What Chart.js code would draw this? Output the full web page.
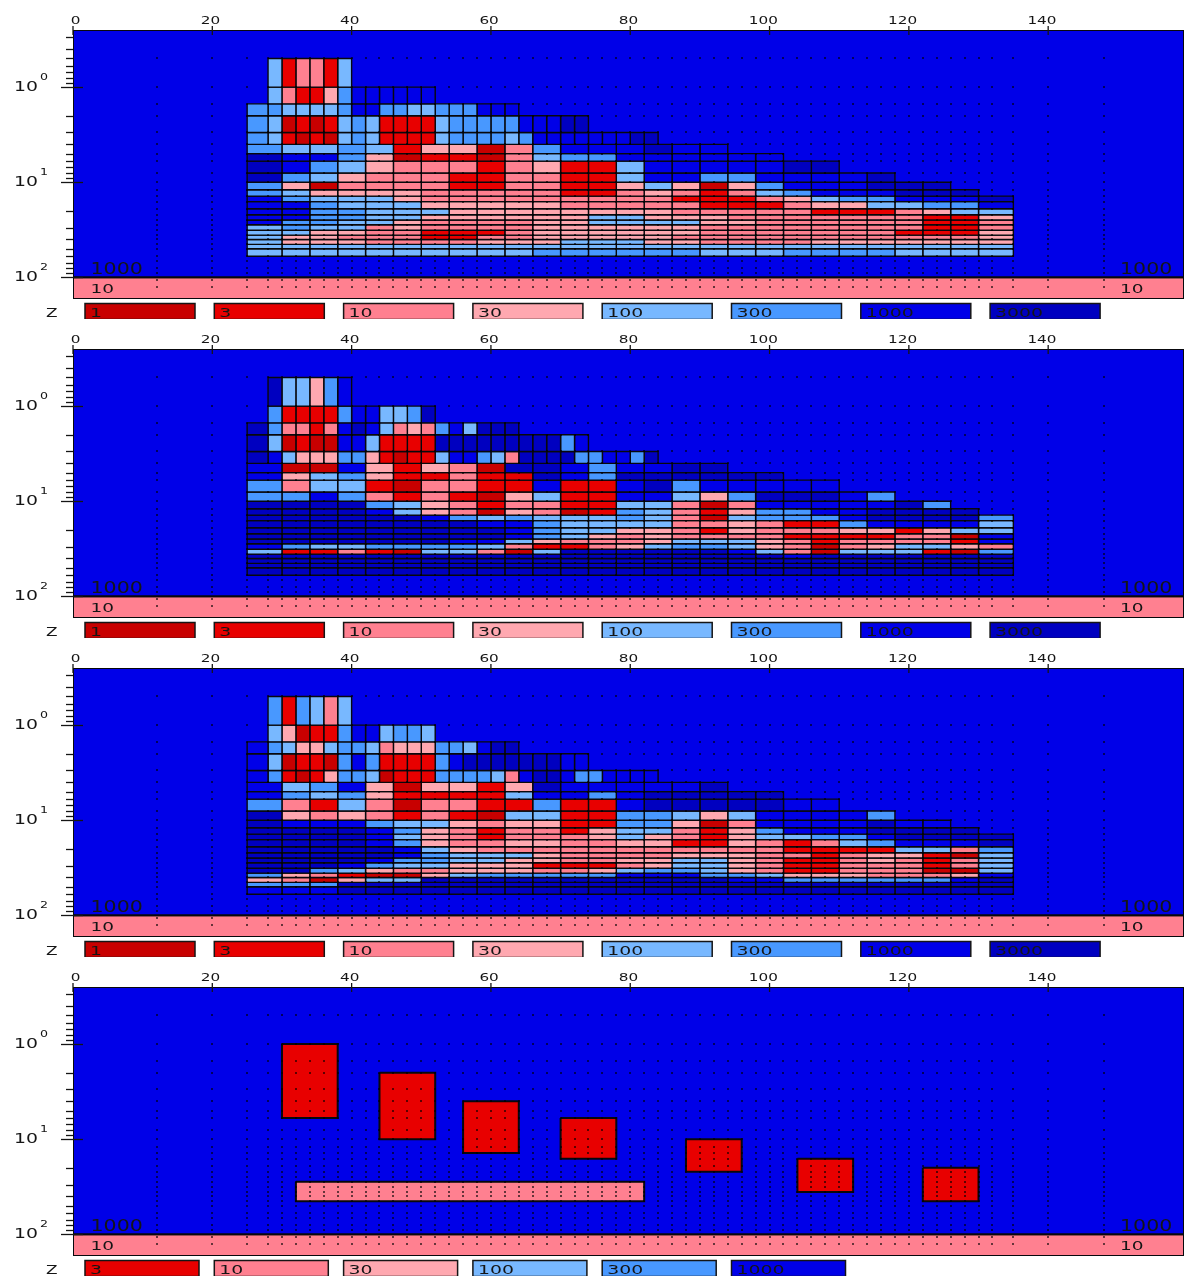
<!DOCTYPE html>
<html>
<head>
<meta charset="utf-8">
<title>Resistivity sections</title>
<script src="https://cdn.jsdelivr.net/npm/chart.js@4/dist/chart.umd.min.js"></script>
<style>
  html, body { margin: 0; padding: 0; background: #fff; overflow: hidden; }
  #wrap { position: relative; width: 1184px; height: 1276px; }
  canvas { position: absolute; left: 0; display: block; }
</style>
</head>
<body>
<div id="wrap">
  <canvas id="panel1" width="1184" height="319" style="top:0"></canvas>
  <canvas id="panel2" width="1184" height="319" style="top:319px"></canvas>
  <canvas id="panel3" width="1184" height="319" style="top:638px"></canvas>
  <canvas id="panel4" width="1184" height="319" style="top:957px"></canvas>
</div>
<script>
// axis values
const xTicks = [0, 20, 40, 60, 80, 100, 120, 140];
const yMajorTicks = [1, 10, 100];
const yMinorTicks = [0.3, 0.4, 0.5, 0.6, 0.7, 0.8, 0.9, 2, 3, 4, 5, 6, 7, 8, 9, 20, 30, 40, 50, 60, 70, 80, 90];

// cell edges, rows 0-1 start at 28, rows 2-4 use narrowX, the others wideX
const rowEdges = [0.5, 1, 1.5, 2, 3, 4, 5, 6, 8, 10, 12, 14, 16, 19, 22, 25, 28, 32, 36, 40, 45, 50, 60];
const narrowX = [25, 28, 30, 32, 34, 36, 38, 40, 42, 44, 46, 48, 50, 52, 54, 56, 58, 60, 62, 64, 66, 68, 70, 72, 74, 76, 78, 80, 82, 84];
const wideX = [25, 30, 34, 38, 42, 46, 50, 54, 58, 62, 66, 70, 74, 78, 82, 86, 90, 94, 98, 102, 106, 110, 114, 118, 122, 126, 130, 135];

// measurement grid, the small dots
const dotX = [12, 20, 25, 28, 30, 32, 34, 36, 38, 40, 42, 44, 46, 48, 50, 52, 54, 56, 58, 60, 62, 64, 66, 68, 70, 72, 74, 76, 78, 80, 82, 84, 86, 88, 90, 92, 94, 96, 98, 100, 102, 104, 106, 108, 110, 112, 114, 116, 118, 120, 122, 124, 126, 128, 130, 132, 135, 140, 148];
const dotY = [0.5, 1, 1.5, 2, 3, 4, 5, 6, 8, 10, 12, 14, 16, 19, 22, 25, 28, 32, 36, 40, 45, 50, 60, 67, 80, 90, 107, 126];

// cell values per row
const panel1 = [
  [100, 3, 10, 10, 3, 100],
  [100, 10, 3, 3, 30, 300, 1000, 1000, 1000, 1000, 1000, 1000],
  [300, 300, 100, 100, 100, 100, 300, 1000, 1000, 300, 300, 100, 100, 300, 300, 300, 1000, 1000, 1000],
  [300, 100, 1, 3, 1, 3, 100, 300, 100, 3, 3, 3, 3, 100, 300, 300, 300, 300, 300, 1000, 1000, 1000, 3000, 3000],
  [300, 100, 3, 1, 3, 1, 100, 300, 100, 3, 3, 3, 3, 100, 300, 300, 300, 300, 100, 300, 1000, 1000, 1000, 1000, 1000, 1000, 1000, 3000, 3000],
  [300, 100, 100, 300, 100, 3, 30, 30, 1, 10, 300, 1000, 1000, 1000, 3000, 1000, 1000],
  [3000, 1000, 1000, 300, 30, 1, 3, 3, 1, 10, 100, 300, 300, 1000, 1000, 1000, 1000, 1000, 1000],
  [3000, 1000, 300, 100, 30, 10, 10, 10, 3, 10, 30, 3, 3, 100, 1000, 1000, 1000, 1000, 1000, 3000, 3000],
  [3000, 300, 100, 30, 10, 10, 10, 3, 3, 10, 10, 3, 3, 100, 1000, 1000, 300, 300, 1000, 1000, 1000, 1000, 3000],
  [300, 30, 1, 10, 10, 10, 10, 3, 3, 10, 10, 3, 3, 30, 100, 30, 1, 30, 300, 1000, 1000, 1000, 3000, 3000, 3000],
  [300, 100, 30, 30, 30, 30, 10, 10, 10, 10, 10, 3, 3, 10, 30, 10, 3, 10, 100, 300, 1000, 1000, 1000, 3000, 3000, 3000],
  [1000, 300, 100, 100, 100, 30, 10, 10, 10, 10, 10, 10, 10, 10, 10, 3, 3, 3, 10, 30, 100, 300, 300, 1000, 1000, 1000, 3000],
  [1000, 1000, 300, 100, 100, 100, 30, 30, 30, 30, 30, 10, 10, 10, 10, 10, 3, 3, 3, 10, 30, 30, 100, 100, 300, 300, 1000],
  [1000, 1000, 300, 300, 100, 100, 100, 30, 30, 30, 30, 30, 30, 30, 30, 10, 10, 10, 10, 10, 3, 3, 3, 10, 30, 100, 100],
  [1000, 1000, 300, 300, 100, 100, 30, 30, 30, 30, 30, 30, 100, 100, 30, 30, 30, 10, 10, 10, 10, 10, 10, 10, 3, 3, 30],
  [1000, 300, 300, 100, 100, 30, 10, 10, 10, 10, 30, 30, 100, 100, 100, 100, 30, 30, 10, 10, 10, 10, 10, 10, 3, 3, 10],
  [100, 300, 100, 100, 10, 30, 10, 10, 10, 10, 30, 30, 30, 30, 30, 30, 10, 10, 10, 10, 10, 10, 10, 10, 3, 3, 10],
  [100, 100, 30, 30, 10, 10, 3, 3, 3, 10, 30, 30, 30, 30, 30, 30, 10, 10, 10, 10, 10, 10, 10, 3, 3, 3, 30],
  [100, 30, 30, 10, 10, 10, 3, 3, 10, 10, 30, 30, 30, 30, 30, 10, 10, 10, 10, 10, 10, 10, 10, 10, 10, 10, 30],
  [100, 30, 30, 30, 10, 10, 10, 10, 30, 30, 30, 100, 100, 100, 30, 30, 10, 10, 10, 10, 30, 30, 30, 30, 30, 30, 30],
  [100, 100, 100, 100, 100, 100, 100, 100, 100, 100, 100, 100, 100, 100, 100, 100, 100, 100, 100, 100, 100, 100, 100, 100, 100, 100, 100],
  [100, 100, 100, 100, 100, 100, 100, 100, 100, 100, 300, 300, 300, 300, 300, 300, 100, 100, 100, 300, 300, 300, 300, 100, 100, 100, 100]
];

const panel2 = [
  [3000, 100, 100, 30, 300, 1000],
  [300, 3, 3, 3, 3, 300, 1000, 1000, 100, 100, 300, 3000],
  [3000, 300, 10, 10, 3, 10, 1000, 3000, 1000, 100, 10, 30, 10, 300, 1000, 100, 3000, 3000, 3000],
  [3000, 100, 1, 3, 1, 1, 1000, 1000, 100, 3, 3, 3, 3, 3000, 3000, 3000, 3000, 3000, 3000, 3000, 3000, 3000, 300, 1000],
  [3000, 1000, 100, 30, 30, 30, 300, 300, 30, 3, 1, 3, 3, 100, 1000, 1000, 300, 100, 10, 3000, 3000, 3000, 3000, 300, 300, 1000, 1000, 300, 3000],
  [1000, 1, 1, 1000, 30, 3, 30, 10, 1, 3000, 3000, 1000, 300, 1000, 1000, 3000, 3000],
  [1000, 30, 100, 300, 30, 3, 3, 10, 3, 3, 3000, 1000, 300, 3000, 3000, 3000, 3000, 3000, 3000],
  [300, 10, 100, 100, 3, 1, 10, 10, 3, 3, 1000, 3, 3, 1000, 3000, 300, 1000, 1000, 1000, 1000, 1000],
  [300, 300, 1000, 300, 10, 3, 10, 3, 1, 30, 100, 3, 3, 1000, 1000, 100, 30, 300, 3000, 3000, 3000, 1000, 300],
  [3000, 3000, 3000, 3000, 300, 100, 30, 10, 3, 10, 10, 3, 3, 100, 100, 10, 1, 10, 1000, 1000, 1000, 1000, 1000, 3000, 300],
  [3000, 3000, 3000, 3000, 1000, 100, 30, 10, 1, 30, 10, 1, 3, 300, 100, 10, 3, 30, 300, 300, 1000, 1000, 3000, 3000, 3000, 3000],
  [3000, 3000, 3000, 3000, 3000, 3000, 1000, 300, 100, 300, 100, 100, 100, 300, 100, 10, 1, 100, 300, 300, 300, 1000, 3000, 3000, 3000, 3000, 300],
  [3000, 3000, 3000, 3000, 3000, 3000, 3000, 3000, 1000, 1000, 300, 100, 100, 100, 100, 10, 10, 30, 10, 3, 3, 300, 1000, 1000, 1000, 1000, 100],
  [3000, 3000, 3000, 3000, 3000, 3000, 3000, 3000, 3000, 1000, 300, 100, 100, 30, 30, 10, 3, 30, 10, 10, 10, 30, 30, 3, 30, 100, 100],
  [3000, 3000, 3000, 3000, 3000, 3000, 3000, 3000, 3000, 1000, 300, 100, 30, 10, 30, 10, 10, 10, 10, 3, 3, 3, 3, 10, 10, 1, 1000],
  [3000, 3000, 3000, 3000, 3000, 3000, 3000, 1000, 1000, 100, 30, 10, 10, 10, 30, 100, 100, 100, 30, 10, 3, 10, 10, 10, 10, 3, 1000],
  [1000, 300, 100, 100, 300, 300, 300, 300, 100, 10, 3, 3, 10, 30, 100, 300, 300, 100, 30, 10, 1, 10, 30, 100, 100, 30, 10],
  [100, 3, 3, 10, 3, 1, 100, 100, 10, 1, 100, 3000, 3000, 3000, 3000, 3000, 3000, 1000, 100, 10, 1, 100, 100, 100, 3, 1, 300],
  [3000, 3000, 3000, 3000, 3000, 3000, 3000, 3000, 3000, 3000, 3000, 3000, 3000, 3000, 3000, 3000, 3000, 3000, 3000, 1000, 3000, 3000, 3000, 3000, 3000, 3000, 3000],
  [3000, 3000, 3000, 3000, 3000, 3000, 3000, 3000, 3000, 3000, 3000, 3000, 3000, 3000, 3000, 3000, 3000, 3000, 3000, 3000, 3000, 3000, 3000, 3000, 3000, 3000, 3000],
  [3000, 3000, 3000, 3000, 3000, 3000, 3000, 3000, 3000, 3000, 3000, 3000, 3000, 3000, 3000, 3000, 3000, 3000, 3000, 3000, 3000, 3000, 3000, 3000, 3000, 3000, 3000],
  [3000, 3000, 3000, 3000, 3000, 3000, 3000, 3000, 3000, 3000, 3000, 3000, 3000, 3000, 3000, 3000, 3000, 3000, 3000, 3000, 3000, 3000, 3000, 3000, 3000, 3000, 3000]
];

const panel3 = [
  [300, 3, 300, 100, 10, 100],
  [100, 30, 1, 3, 3, 300, 1000, 1000, 100, 300, 300, 100],
  [1000, 300, 100, 30, 30, 100, 300, 300, 100, 10, 30, 30, 30, 300, 300, 100, 1000, 3000, 3000],
  [1000, 100, 1, 3, 3, 1, 300, 1000, 300, 3, 3, 3, 3, 300, 1000, 3000, 3000, 3000, 3000, 3000, 3000, 3000, 1000, 1000],
  [1000, 300, 3, 1, 3, 30, 300, 300, 100, 1, 3, 3, 3, 300, 300, 300, 300, 100, 10, 1000, 3000, 3000, 1000, 300, 300, 1000, 1000, 1000, 1000],
  [1000, 100, 300, 1000, 30, 1, 30, 30, 3, 30, 3000, 1000, 1000, 1000, 1000, 1000, 3000],
  [1000, 300, 100, 300, 30, 3, 3, 3, 3, 100, 1000, 1000, 300, 1000, 3000, 3000, 3000, 3000, 3000],
  [300, 10, 3, 100, 10, 1, 10, 10, 3, 3, 300, 3, 3, 1000, 3000, 3000, 3000, 3000, 3000, 1000, 1000],
  [3000, 30, 10, 30, 10, 3, 10, 3, 1, 100, 100, 3, 3, 300, 300, 100, 30, 100, 1000, 1000, 1000, 1000, 300],
  [3000, 1000, 1000, 1000, 300, 100, 100, 30, 10, 30, 30, 3, 3, 300, 300, 30, 1, 10, 1000, 1000, 1000, 1000, 3000, 1000, 1000],
  [3000, 3000, 3000, 3000, 1000, 300, 30, 10, 3, 10, 10, 3, 30, 100, 100, 10, 3, 30, 300, 1000, 1000, 1000, 3000, 3000, 3000, 3000],
  [3000, 3000, 3000, 3000, 1000, 100, 30, 10, 3, 10, 10, 10, 30, 100, 30, 10, 3, 30, 100, 100, 300, 300, 1000, 3000, 3000, 3000, 3000],
  [3000, 3000, 3000, 3000, 1000, 300, 30, 10, 10, 30, 30, 10, 10, 30, 30, 3, 3, 30, 10, 3, 10, 100, 300, 1000, 1000, 1000, 3000],
  [3000, 3000, 3000, 3000, 3000, 1000, 100, 30, 10, 10, 10, 10, 10, 10, 10, 10, 10, 10, 10, 3, 3, 3, 3, 100, 100, 10, 300],
  [3000, 3000, 3000, 3000, 3000, 1000, 300, 100, 100, 100, 30, 10, 10, 10, 10, 30, 30, 30, 10, 10, 3, 10, 30, 30, 3, 1, 100],
  [3000, 3000, 3000, 3000, 1000, 300, 300, 100, 100, 30, 30, 10, 10, 30, 30, 100, 100, 30, 10, 3, 3, 10, 30, 10, 3, 10, 100],
  [3000, 3000, 3000, 1000, 300, 100, 100, 30, 30, 30, 3, 3, 3, 10, 30, 100, 100, 30, 10, 3, 3, 10, 10, 10, 3, 10, 100],
  [3000, 3000, 300, 100, 30, 10, 10, 30, 30, 30, 10, 10, 30, 100, 300, 300, 100, 30, 10, 3, 3, 10, 10, 10, 1, 1, 100],
  [300, 30, 10, 3, 1, 1, 30, 100, 300, 300, 300, 300, 300, 1000, 1000, 1000, 300, 300, 100, 30, 30, 30, 10, 10, 10, 30, 1000],
  [30, 10, 1, 30, 100, 100, 3000, 3000, 3000, 3000, 3000, 3000, 3000, 3000, 3000, 3000, 3000, 1000, 1000, 300, 300, 300, 300, 300, 300, 1000, 3000],
  [300, 300, 300, 3000, 3000, 3000, 3000, 3000, 3000, 3000, 3000, 3000, 3000, 3000, 3000, 3000, 3000, 3000, 3000, 3000, 3000, 3000, 3000, 3000, 3000, 3000, 3000],
  [1000, 1000, 1000, 3000, 3000, 3000, 3000, 3000, 3000, 3000, 3000, 3000, 3000, 3000, 3000, 3000, 3000, 3000, 3000, 3000, 3000, 3000, 3000, 3000, 3000, 3000, 3000]
];

// panel 4 is the simplified model, a few blocks only
const blockValues = [3, 3, 3, 3, 3, 3, 3, 10];
const blockLeft = [30, 44, 56, 70, 88, 104, 122, 32];
const blockRight = [38, 52, 64, 78, 96, 112, 130, 82];
const blockTop = [1, 2, 4, 6, 10, 16, 20, 28];
const blockBottom = [6, 10, 14, 16, 22, 36, 45, 45];

const legendAll = [1, 3, 10, 30, 100, 300, 1000, 3000];
const legendModel = [3, 10, 30, 100, 300, 1000];

const valueColors = {
  1: '#c80000', 3: '#e80000', 10: '#ff8090', 30: '#ffa8b0',
  100: '#78b8ff', 300: '#4898ff', 1000: '#0000e8', 3000: '#0000c0'
};

// plot limits
const xMax = 159.5;
const yMin = 0.251;
const yAxisEnd = 100;
const yMax = 169;

const inkColor = '#151515';

function rectPoints(x0, x1, y0, y1) {
  return [{x: x0, y: y0}, {x: x1, y: y0}, {x: x1, y: y1}, {x: x0, y: y1}, {x: x0, y: y0}];
}

// every rectangle is a closed line dataset filled with fill: 'shape'
function rectDataset(x0, x1, y0, y1, value, lineWidth) {
  return {
    data: rectPoints(x0, x1, y0, y1),
    backgroundColor: valueColors[value],
    borderColor: '#08080c',
    borderWidth: lineWidth,
    fill: 'shape',
    pointRadius: 0,
    tension: 0
  };
}

// the points are painted by dotPainter, snapped to whole pixels
function dotsDataset() {
  const pts = [];
  dotX.forEach(x => dotY.forEach(y => pts.push({x: x, y: y})));
  return {
    data: pts,
    showLine: false,
    pointRadius: 0
  };
}

function backgroundDatasets() {
  return [
    rectDataset(0, xMax, yMin, yAxisEnd, 1000, 2),
    rectDataset(0, xMax, yAxisEnd, yMax, 10, 2)
  ];
}

function cellDatasets(rows) {
  const out = [];
  rows.forEach((row, r) => {
    const edges = r < 2 ? narrowX.slice(1) : (r < 5 ? narrowX : wideX);
    row.forEach((v, c) => {
      out.push(rectDataset(edges[c], edges[c + 1], rowEdges[r], rowEdges[r + 1], v, 1.4));
    });
  });
  return out;
}

function blockDatasets() {
  return blockValues.map((v, i) => rectDataset(blockLeft[i], blockRight[i], blockTop[i], blockBottom[i], v, 2));
}

// canvas text stretched sideways, the original plotter font is very wide
function wideText(ctx, str, x, y, size, sx) {
  ctx.save();
  ctx.font = size + 'px "DejaVu Sans"';
  ctx.textBaseline = 'alphabetic';
  ctx.fillStyle = inkColor;
  ctx.translate(x, y);
  ctx.scale(sx, 1);
  ctx.fillText(str, 0, 0);
  ctx.restore();
}

const dotPainter = {
  id: 'dotPainter',
  afterDatasetsDraw(chart) {
    const ctx = chart.ctx;
    ctx.save();
    ctx.fillStyle = 'rgba(0, 0, 0, 0.6)';
    chart.getDatasetMeta(0).data.forEach(pt => {
      ctx.fillRect(Math.round(pt.x) - 1, Math.round(pt.y) - 1, 2, 2);
    });
    ctx.restore();
  }
};

// ticks, stretched tick labels, layer labels and the Z legend
const panelDecor = {
  id: 'panelDecor',
  afterDraw(chart, args, opts) {
    const ctx = chart.ctx;
    const xs = chart.scales.x;
    const ys = chart.scales.y;
    const left = chart.chartArea.left;
    const top = chart.chartArea.top;

    ctx.save();
    ctx.strokeStyle = inkColor;
    ctx.lineWidth = 1.3;
    xs.ticks.forEach(t => {
      const px = xs.getPixelForValue(t.value);
      ctx.beginPath();
      ctx.moveTo(px, top - 4);
      ctx.lineTo(px, top + 5);
      ctx.stroke();
      const n = String(t.value).length;
      const w = n * 10;
      wideText(ctx, t.label, px + (7 - 4.25 * n) - w / 2, 23.5, 10.5, 1.45);
    });
    ys.ticks.forEach(t => {
      const py = Math.round(ys.getPixelForValue(t.value)) + 0.5;
      const major = yMajorTicks.includes(t.value);
      ctx.beginPath();
      ctx.moveTo(major ? left - 12 : left - 7, py);
      ctx.lineTo(major ? left + 10 : left, py);
      ctx.stroke();
      if (major) {
        wideText(ctx, '10', 14, py + 3.5, 14.5, 1.3);
        wideText(ctx, String(Math.round(Math.log10(t.value))), 40, py - 7.3, 9.5, 1.33);
      }
    });
    ctx.restore();

    // layer values of the background model
    wideText(ctx, '1000', 90.5, 273.5, 15, 1.37);
    wideText(ctx, '10', 90.5, 293, 12.5, 1.48);
    wideText(ctx, '1000', 1120, 273.5, 15, 1.37);
    wideText(ctx, '10', 1120, 293, 12.5, 1.48);

    // colour key
    wideText(ctx, 'Z', 46, 316.5, 13, 1.3);
    opts.values.forEach((v, i) => {
      const bx = 85 + i * 129.3;
      ctx.fillStyle = valueColors[v];
      ctx.strokeStyle = inkColor;
      ctx.lineWidth = 1.5;
      ctx.fillRect(bx, 303.5, opts.boxWidth, 16);
      ctx.strokeRect(bx, 303.5, opts.boxWidth, 16);
      wideText(ctx, String(v), bx + 5, 316.5, 13, 1.45);
    });
  }
};

function makePanel(id, datasets, legendValues, boxWidth) {
  return new Chart(document.getElementById(id), {
    type: 'line',
    data: {datasets: datasets},
    plugins: [dotPainter, panelDecor],
    options: {
      responsive: false,
      animation: false,
      events: [],
      layout: {autoPadding: false, padding: {left: 0, right: 0, top: 0, bottom: 20}},
      plugins: {
        legend: {display: false},
        tooltip: {enabled: false},
        panelDecor: {values: legendValues, boxWidth: boxWidth}
      },
      scales: {
        x: {
          type: 'linear',
          position: 'top',
          min: 0,
          max: xMax,
          grid: {display: false},
          border: {display: false},
          ticks: {display: false, autoSkip: false},
          afterBuildTicks: s => { s.ticks = xTicks.map(v => ({value: v})); },
          afterFit: s => { s.height = 30; }
        },
        y: {
          type: 'logarithmic',
          reverse: true,
          min: yMin,
          max: yMax,
          grid: {display: false},
          border: {display: false},
          ticks: {display: false, autoSkip: false},
          afterBuildTicks: s => { s.ticks = yMajorTicks.concat(yMinorTicks).map(v => ({value: v})); },
          afterFit: s => { s.width = 73; }
        }
      }
    }
  });
}

// dataset 0 is the dot grid, the background goes last so it lies underneath
makePanel('panel1', [dotsDataset()].concat(cellDatasets(panel1), backgroundDatasets()), legendAll, 110);
makePanel('panel2', [dotsDataset()].concat(cellDatasets(panel2), backgroundDatasets()), legendAll, 110);
makePanel('panel3', [dotsDataset()].concat(cellDatasets(panel3), backgroundDatasets()), legendAll, 110);
makePanel('panel4', [dotsDataset()].concat(blockDatasets(), backgroundDatasets()), legendModel, 114);
</script>
</body>
</html>
